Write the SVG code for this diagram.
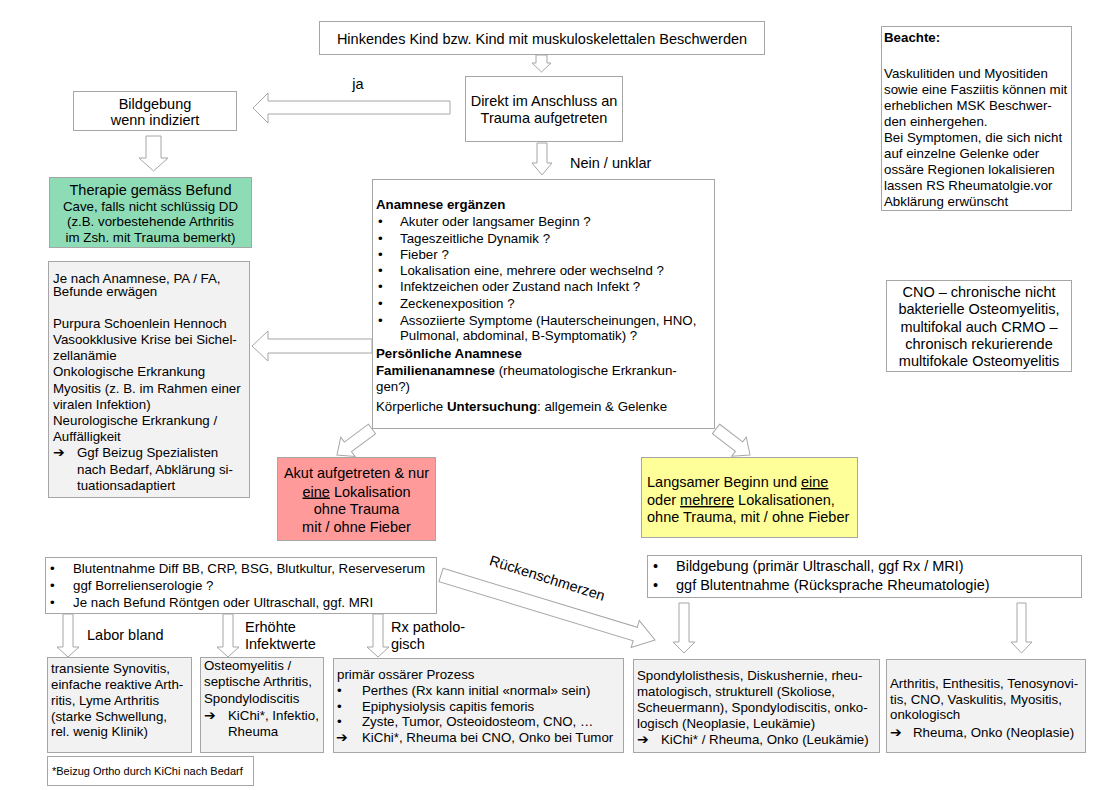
<svg xmlns="http://www.w3.org/2000/svg" width="1120" height="790" viewBox="0 0 1120 790">
<style>
.box{fill:#fff;stroke:#a6a6a6;stroke-width:1}
.grey{fill:#f2f2f2;stroke:#a6a6a6;stroke-width:1}
.arr{fill:#fff;stroke:#a6a6a6;stroke-width:1;stroke-linejoin:miter}
text{font-family:"Liberation Sans",Arial,sans-serif;font-size:13.3px;fill:#000}
.l{font-size:14.5px}
.c{text-anchor:middle}
.b{font-weight:bold}
.s{font-size:11px}
.ar{font-family:"DejaVu Sans",sans-serif;font-size:14px;font-weight:bold}
.u{text-decoration:underline}
</style>
<rect width="1120" height="790" fill="#fff"/>
<g id="connectors">
<polygon class="arr" points="536,55 547,55 547,63 551,63 541.5,72 532,63 536,63"/>
<polygon class="arr" points="450,101 268,101 268,93 253,108 268,123 268,114 450,114"/>
<polygon class="arr" points="537,143 547,143 547,163 552,163 542,175 532,163 537,163"/>
<polygon class="arr" points="146,136 161,136 161,158 168,158 153.5,171 139,158 146,158"/>
<polygon class="arr" points="372,339 268,339 268,331 252,346 268,361 268,353 372,353"/>
<polygon class="arr" transform="translate(372,429) rotate(143.4)" points="0,-6 30,-6 30,-12 43.6,0 30,12 30,6 0,6"/>
<polygon class="arr" transform="translate(716,429) rotate(37.4)" points="0,-6 29,-6 29,-12 42.8,0 29,12 29,6 0,6"/>
<polygon class="arr" transform="translate(441,575) rotate(16.9)" points="0,-7 203,-7 203,-14 223.7,0 203,14 203,7 0,7"/>
<polygon class="arr" points="63,614 73,614 73,647 79,647 68,657 57,647 63,647"/>
<polygon class="arr" points="223,614 233,614 233,647 239,647 228,657 217,647 223,647"/>
<polygon class="arr" points="373,614 383,614 383,647 389,647 378,657 367,647 373,647"/>
<polygon class="arr" points="679,603 689,603 689,642 695,642 684,653 673,642 679,642"/>
<polygon class="arr" points="1017,603 1026,603 1026,642 1032,642 1021.5,653 1011,642 1017,642"/>
<text class="l" x="358" y="89" text-anchor="middle">ja</text>
<text class="l" x="570" y="168">Nein / unklar</text>
<text class="l" x="87" y="640">Labor bland</text>
<text class="l" x="245" y="632">Erhöhte</text>
<text class="l" x="245" y="649">Infektwerte</text>
<text class="l" x="391" y="632">Rx patholo-</text>
<text class="l" x="391" y="649">gisch</text>
<text class="l" x="547" y="583" text-anchor="middle" transform="rotate(17.5 547 579)">Rückenschmerzen</text>
</g>
<g id="start">
<rect class="box" x="319.5" y="21.5" width="445" height="33"/>
<text class="l c" x="542" y="43.5">Hinkendes Kind bzw. Kind mit muskuloskelettalen Beschwerden</text>
</g>
<g id="trauma">
<rect class="box" x="465.5" y="76.5" width="157" height="65"/>
<text class="l c" x="544" y="106">Direkt im Anschluss an</text>
<text class="l c" x="544" y="123">Trauma aufgetreten</text>
</g>
<g id="bildgebung1">
<rect class="box" x="73.5" y="91.5" width="163" height="39"/>
<text class="l c" x="155" y="109">Bildgebung</text>
<text class="l c" x="155" y="125">wenn indiziert</text>
</g>
<g id="therapie">
<rect x="49.5" y="177.5" width="202" height="70" fill="#8edcb6" stroke="#a6a6a6"/>
<text class="l c" x="150.5" y="195">Therapie gemäss Befund</text>
<text class="c" x="150.5" y="210.5">Cave, falls nicht schlüssig DD</text>
<text class="c" x="150.5" y="226">(z.B. vorbestehende Arthritis</text>
<text class="c" x="150.5" y="241.5">im Zsh. mit Trauma bemerkt)</text>
</g>
<g id="beachte">
<rect class="box" x="881.5" y="26.5" width="190" height="184"/>
<text class="b" x="884" y="42">Beachte:</text>
<text x="884" y="78">Vaskulitiden und Myositiden</text>
<text x="884" y="94">sowie eine Fasziitis können mit</text>
<text x="884" y="110">erheblichen MSK Beschwer-</text>
<text x="884" y="126">den einhergehen.</text>
<text x="884" y="142">Bei Symptomen, die sich nicht</text>
<text x="884" y="158">auf einzelne Gelenke oder</text>
<text x="884" y="174">ossäre Regionen lokalisieren</text>
<text x="884" y="190">lassen RS Rheumatolgie.vor</text>
<text x="884" y="206">Abklärung erwünscht</text>
</g>
<g id="cno">
<rect class="box" x="886.5" y="280.5" width="185" height="91"/>
<text class="l c" x="979" y="297">CNO – chronische nicht</text>
<text class="l c" x="979" y="314">bakterielle Osteomyelitis,</text>
<text class="l c" x="979" y="332">multifokal auch CRMO –</text>
<text class="l c" x="979" y="349">chronisch rekurierende</text>
<text class="l c" x="979" y="366">multifokale Osteomyelitis</text>
</g>
<g id="anamnese">
<rect class="box" x="372.5" y="179.5" width="342" height="249"/>
<text class="b" x="376" y="209">Anamnese ergänzen</text>
<text x="378" y="226">•</text><text x="400" y="226">Akuter oder langsamer Beginn ?</text>
<text x="378" y="243">•</text><text x="400" y="243">Tageszeitliche Dynamik ?</text>
<text x="378" y="259">•</text><text x="400" y="259">Fieber ?</text>
<text x="378" y="275">•</text><text x="400" y="275">Lokalisation eine, mehrere oder wechselnd ?</text>
<text x="378" y="291">•</text><text x="400" y="291">Infektzeichen oder Zustand nach Infekt ?</text>
<text x="378" y="308">•</text><text x="400" y="308">Zeckenexposition ?</text>
<text x="378" y="324.5">•</text><text x="400" y="324.5">Assoziierte Symptome (Hauterscheinungen, HNO,</text>
<text x="400" y="340">Pulmonal, abdominal, B-Symptomatik) ?</text>
<text class="b" x="376" y="358">Persönliche Anamnese</text>
<text x="376" y="374.5"><tspan class="b">Familienanamnese</tspan> (rheumatologische Erkrankun-</text>
<text x="376" y="391">gen?)</text>
<text x="376" y="411">Körperliche <tspan class="b">Untersuchung</tspan>: allgemein &amp; Gelenke</text>
</g>
<g id="dd">
<rect class="grey" x="48.5" y="261.5" width="201" height="236"/>
<text x="53" y="283">Je nach Anamnese, PA / FA,</text>
<text x="53" y="296">Befunde erwägen</text>
<text x="53" y="328">Purpura Schoenlein Hennoch</text>
<text x="53" y="344">Vasookklusive Krise bei Sichel-</text>
<text x="53" y="360">zellanämie</text>
<text x="53" y="376">Onkologische Erkrankung</text>
<text x="53" y="393">Myositis (z. B.  im Rahmen einer</text>
<text x="53" y="409">viralen Infektion)</text>
<text x="53" y="425">Neurologische Erkrankung /</text>
<text x="53" y="441">Auffälligkeit</text>
<text class="ar" x="53" y="457">➔</text><text x="77" y="457">Ggf Beizug Spezialisten</text>
<text x="77" y="474">nach Bedarf, Abklärung si-</text>
<text x="77" y="490">tuationsadaptiert</text>
</g>
<g id="akut">
<rect x="277.5" y="457.5" width="158" height="83" fill="#ff9a9a" stroke="#a6a6a6"/>
<text class="l c" x="356.5" y="478">Akut aufgetreten &amp; nur</text>
<text class="l c" x="356.5" y="496.5"><tspan class="u">eine</tspan> Lokalisation</text>
<text class="l c" x="356.5" y="514">ohne Trauma</text>
<text class="l c" x="356.5" y="532">mit / ohne Fieber</text>
</g>
<g id="langsam">
<rect x="641.5" y="457.5" width="216" height="80" fill="#ffff99" stroke="#a6a6a6"/>
<text class="l" x="647" y="487">Langsamer Beginn und <tspan class="u">eine</tspan></text>
<text class="l" x="647" y="505">oder <tspan class="u">mehrere</tspan> Lokalisationen,</text>
<text class="l" x="647" y="522">ohne Trauma, mit / ohne Fieber</text>
</g>
<g id="labor">
<rect class="box" x="45.5" y="557.5" width="391" height="56"/>
<text x="50" y="572.5">•</text><text x="73" y="572.5">Blutentnahme Diff BB, CRP, BSG, Blutkultur, Reserveserum</text>
<text x="50" y="589.5">•</text><text x="73" y="589.5">ggf Borrelienserologie ?</text>
<text x="50" y="606.5">•</text><text x="73" y="606.5">Je nach Befund Röntgen oder Ultraschall, ggf. MRI</text>
</g>
<g id="bildgebung2">
<rect class="box" x="647.5" y="555.5" width="434" height="42"/>
<text class="l" x="653" y="571">•</text><text class="l" x="676" y="571">Bildgebung (primär Ultraschall, ggf Rx / MRI)</text>
<text class="l" x="653" y="590">•</text><text class="l" x="676" y="590">ggf Blutentnahme (Rücksprache Rheumatologie)</text>
</g>
<g id="synovitis">
<rect class="grey" x="47.5" y="657.5" width="144" height="95"/>
<text x="51" y="673">transiente Synovitis,</text>
<text x="51" y="688.5">einfache reaktive Arth-</text>
<text x="51" y="704.5">ritis, Lyme Arthritis</text>
<text x="51" y="720.5">(starke Schwellung,</text>
<text x="51" y="736">rel. wenig Klinik)</text>
</g>
<g id="osteomyelitis">
<rect class="grey" x="200.5" y="657.5" width="123" height="95"/>
<text x="204" y="669.5">Osteomyelitis /</text>
<text x="204" y="686">septische Arthritis,</text>
<text x="204" y="703">Spondylodiscitis</text>
<text class="ar" x="204" y="720">➔</text><text x="228" y="720">KiChi*, Infektio,</text>
<text x="228" y="736">Rheuma</text>
</g>
<g id="ossaer">
<rect class="grey" x="333.5" y="658.5" width="290" height="94"/>
<text x="337" y="678.5">primär ossärer Prozess</text>
<text x="337" y="694.5">•</text><text x="362" y="694.5">Perthes (Rx kann initial «normal» sein)</text>
<text x="337" y="711">•</text><text x="362" y="711">Epiphysiolysis capitis femoris</text>
<text x="337" y="726">•</text><text x="362" y="726">Zyste, Tumor, Osteoidosteom, CNO, …</text>
<text class="ar" x="336" y="742">➔</text><text x="362" y="742">KiChi*, Rheuma bei CNO, Onko bei Tumor</text>
</g>
<g id="ruecken">
<rect class="grey" x="633.5" y="659.5" width="246" height="93"/>
<text x="637" y="679.5">Spondylolisthesis, Diskushernie, rheu-</text>
<text x="637" y="696">matologisch, strukturell (Skoliose,</text>
<text x="637" y="711.5">Scheuermann), Spondylodiscitis, onko-</text>
<text x="637" y="727.5">logisch (Neoplasie, Leukämie)</text>
<text class="ar" x="637" y="743.5">➔</text><text x="661" y="743.5">KiChi* / Rheuma, Onko (Leukämie)</text>
</g>
<g id="arthritis">
<rect class="grey" x="886.5" y="659.5" width="199" height="93"/>
<text x="890" y="687.5">Arthritis, Enthesitis, Tenosynovi-</text>
<text x="890" y="703.5">tis, CNO, Vaskulitis, Myositis,</text>
<text x="890" y="718.5">onkologisch</text>
<text class="ar" x="890" y="736.5">➔</text><text x="913" y="736.5">Rheuma, Onko (Neoplasie)</text>
</g>
<g id="footnote">
<rect class="box" x="47.5" y="756.5" width="206" height="29"/>
<text class="s" x="52" y="775">*Beizug Ortho durch KiChi nach Bedarf</text>
</g>
</svg>
